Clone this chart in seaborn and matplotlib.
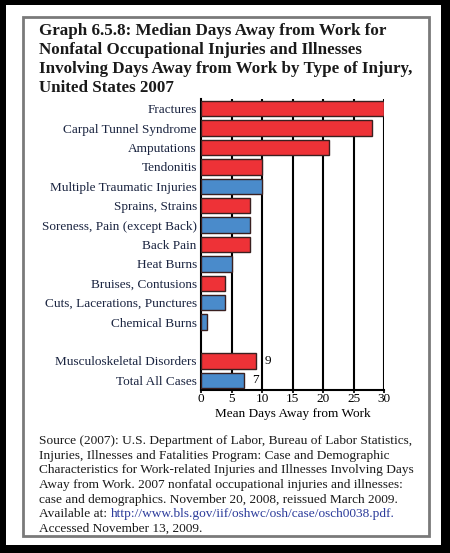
import matplotlib
matplotlib.use("Agg")
import matplotlib.pyplot as plt
import seaborn as sns
import pandas as pd
from matplotlib.patches import Rectangle

categories = ["Fractures", "Carpal Tunnel Syndrome", "Amputations", "Tendonitis",
              "Multiple Traumatic Injuries", "Sprains, Strains", "Soreness, Pain (except Back)",
              "Back Pain", "Heat Burns", "Bruises, Contusions", "Cuts, Lacerations, Punctures",
              "Chemical Burns", "Musculoskeletal Disorders", "Total All Cases"]
values = [30, 28, 21, 10, 10, 8, 8, 8, 5, 4, 4, 1, 9, 7]
groups = ["red", "red", "red", "red", "blue", "red", "blue", "red", "blue", "red",
          "blue", "blue", "red", "blue"]
annotated = {"Musculoskeletal Disorders": "9", "Total All Cases": "7"}
xticks = [0, 5, 10, 15, 20, 25, 30]

order = categories[:12] + [" "] + categories[12:]
df = pd.DataFrame({"cat": categories, "val": values, "grp": groups})

W, H = 450, 553
fig = plt.figure(figsize=(W / 100, H / 100), dpi=100)
fig.patch.set_facecolor("white")

def px(x0, y0, x1, y1):
    return (x0 / W, 1 - y1 / H, (x1 - x0) / W, (y1 - y0) / H)

# black outer border
for (x0, y0, x1, y1) in [(0, 0, 6, H), (0, 0, W, 5), (441, 0, W, H), (0, 545, W, H)]:
    l, b, w, h = px(x0, y0, x1, y1)
    fig.patches.append(Rectangle((l, b), w, h, transform=fig.transFigure,
                                 facecolor="black", edgecolor="none", zorder=0))
# gray frame
l, b, w, h = px(23, 17, 429, 536)
fig.patches.append(Rectangle((l, b), w, h, transform=fig.transFigure,
                             facecolor="none", edgecolor="#7a7a7a", linewidth=2, zorder=1))

serif = ["Liberation Serif", "DejaVu Serif"]

title_lines = ["Graph 6.5.8: Median Days Away from Work for",
               "Nonfatal Occupational Injuries and Illnesses",
               "Involving Days Away from Work by Type of Injury,",
               "United States 2007"]
for k, line in enumerate(title_lines):
    fig.text(39 / W, 1 - (35 + 19 * k) / H, line, ha="left", va="baseline", family=serif,
             fontweight="bold", fontsize=12.25, color="#1a1a1a")

ax = fig.add_axes(px(201, 99, 384, 390))
pal = {"red": "#EE3237", "blue": "#4A8BCB"}
sns.barplot(data=df, y="cat", x="val", hue="grp", palette=pal, order=order,
            dodge=False, legend=False, orient="h", width=0.8,
            edgecolor="#3a2020", linewidth=1.0, saturation=1, ax=ax, zorder=3)

ax.set_xlim(0, 30)
ax.set_ylim(len(order) - 0.5, -0.5)
ax.set_xticks(xticks)
ax.set_xticklabels([str(t) for t in xticks], family=serif, fontsize=9.5)
ax.set_yticks(range(len(order)))
ax.set_yticklabels(order, family=serif, fontsize=9.5, color="#1a2440")
ax.tick_params(axis="y", length=0, pad=3)
ax.tick_params(axis="x", length=2, pad=0, width=1.2)
ax.set_ylabel("")
ax.set_xlabel("Mean Days Away from Work", family=serif, fontsize=9.5, labelpad=2)
for x in xticks[1:]:
    ax.axvline(x, color="black", linewidth=1.5, zorder=1)
for s in ["top", "right"]:
    ax.spines[s].set_visible(False)
for s in ["left", "bottom"]:
    ax.spines[s].set_linewidth(1.5)
    ax.spines[s].set_color("black")

for cat, txt in annotated.items():
    i = order.index(cat)
    v = values[categories.index(cat)]
    ax.annotate(txt, (v, i), xytext=(6, 0), textcoords="offset points",
                ha="left", va="center", family=serif, fontsize=9.5)

src_lines = ["Source (2007): U.S. Department of Labor, Bureau of Labor Statistics,",
             "Injuries, Illnesses and Fatalities Program: Case and Demographic",
             "Characteristics for Work-related Injuries and Illnesses Involving Days",
             "Away from Work. 2007 nonfatal occupational injuries and illnesses:",
             "case and demographics. November 20, 2008, reissued March 2009.",
             "Available at:",
             "Accessed November 13, 2009."]
link = "http://www.bls.gov/iif/oshwc/osh/case/osch0038.pdf."
src_objs = []
for k, line in enumerate(src_lines):
    src_objs.append(fig.text(39 / W, 1 - (444 + 14.65 * k) / H, line, ha="left",
                             va="baseline", family=serif, fontsize=9.6, color="#1a1a1a"))
fig.canvas.draw()
r = fig.canvas.get_renderer()
avail_end = src_objs[5].get_window_extent(r).x1
fig.text((avail_end + 4) / W, 1 - (444 + 14.65 * 5) / H, link, ha="left", va="baseline",
         family=serif, fontsize=9.6, color="#2a3a9a")

fig.savefig("out.png", dpi=100, facecolor="white")
